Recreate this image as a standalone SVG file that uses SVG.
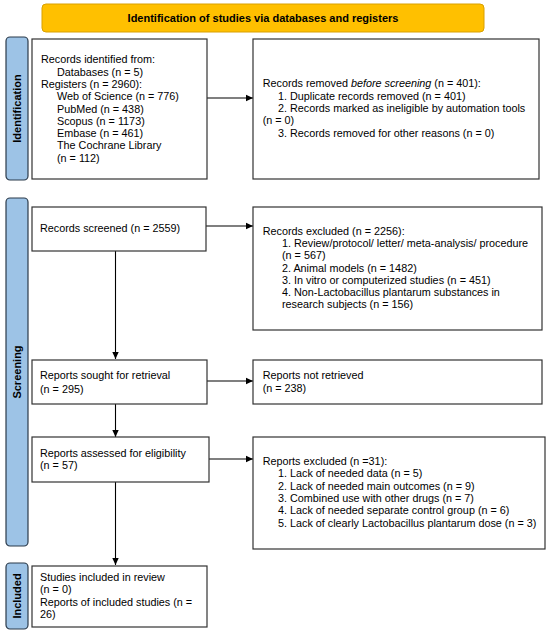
<svg xmlns="http://www.w3.org/2000/svg" width="550" height="634" viewBox="0 0 550 634">
<defs>
<marker id="arr" markerWidth="8" markerHeight="8" refX="7" refY="4" orient="auto" markerUnits="userSpaceOnUse">
<path d="M0,0.8 L7,4 L0,7.2 Z" fill="#000"/>
</marker>
<style>
.box{fill:#fff;stroke:#333;stroke-width:1.2}
.side{fill:#9dc3e6;stroke:#2b3a4a;stroke-width:1.2}
.t{font-family:"Liberation Sans",Arial,sans-serif;font-size:10.8px;fill:#000}
.st{font-family:"Liberation Sans",Arial,sans-serif;font-size:11px;font-weight:bold;fill:#000}
.edge{stroke:#000;stroke-width:1.1;fill:none;marker-end:url(#arr)}
</style>
</defs>
<rect width="550" height="634" fill="#fff"/>
<g id="title">
<rect x="42" y="4" width="442" height="28" rx="4" fill="#ffc000" stroke="#d9a000" stroke-width="1"/>
<text class="st" x="263" y="22" text-anchor="middle">Identification of studies via databases and registers</text>
</g>
<g id="side-identification">
<rect class="side" x="6" y="37" width="22" height="143" rx="4"/>
<text class="st" transform="translate(21,108.5) rotate(-90)" text-anchor="middle">Identification</text>
</g>
<g id="side-screening">
<rect class="side" x="6" y="198" width="22" height="348" rx="4"/>
<text class="st" transform="translate(21,372) rotate(-90)" text-anchor="middle">Screening</text>
</g>
<g id="side-included">
<rect class="side" x="6" y="563" width="22" height="66" rx="4"/>
<text class="st" transform="translate(21,596) rotate(-90)" text-anchor="middle">Included</text>
</g>
<g id="connectors">
<line class="edge" x1="207" y1="98" x2="253" y2="98"/>
<line class="edge" x1="206" y1="226" x2="253" y2="226"/>
<line class="edge" x1="115.5" y1="251" x2="115.5" y2="359"/>
<line class="edge" x1="207" y1="381" x2="253" y2="381"/>
<line class="edge" x1="115.5" y1="404" x2="115.5" y2="437"/>
<line class="edge" x1="209" y1="459" x2="253" y2="459"/>
<line class="edge" x1="115.5" y1="482" x2="115.5" y2="565"/>
</g>
<g id="n-identified">
<rect class="box" x="32" y="39" width="175" height="140"/>
<text class="t" x="41" y="63.3">Records identified from:</text>
<text class="t" x="57" y="75.6">Databases (n = 5)</text>
<text class="t" x="41" y="87.9">Registers (n = 2960):</text>
<text class="t" x="57" y="100.2">Web of Science (n = 776)</text>
<text class="t" x="57" y="112.5">PubMed (n = 438)</text>
<text class="t" x="57" y="124.8">Scopus (n = 1173)</text>
<text class="t" x="57" y="137.1">Embase (n = 461)</text>
<text class="t" x="57" y="149.4">The Cochrane Library</text>
<text class="t" x="57" y="161.7">(n = 112)</text>
</g>
<g id="n-removed">
<rect class="box" x="253" y="39" width="286" height="140"/>
<text class="t" x="262.7" y="87.3">Records removed <tspan font-style="italic">before screening</tspan> (n = 401):</text>
<text class="t" x="278" y="99.6">1. Duplicate records removed (n = 401)</text>
<text class="t" x="278" y="111.9">2. Records marked as ineligible by automation tools</text>
<text class="t" x="262.7" y="124.2">(n = 0)</text>
<text class="t" x="278" y="136.5">3. Records removed for other reasons (n = 0)</text>
</g>
<g id="n-screened">
<rect class="box" x="32" y="207" width="174" height="44"/>
<text class="t" x="40" y="232">Records screened (n = 2559)</text>
</g>
<g id="n-excluded">
<rect class="box" x="253" y="207" width="289" height="123"/>
<text class="t" x="262.7" y="235">Records excluded (n = 2256):</text>
<text class="t" x="282" y="247.2">1. Review/protocol/ letter/ meta-analysis/ procedure</text>
<text class="t" x="282" y="259.4">(n = 567)</text>
<text class="t" x="282" y="271.6">2. Animal models (n = 1482)</text>
<text class="t" x="282" y="283.8">3. In vitro or computerized studies (n = 451)</text>
<text class="t" x="282" y="296">4. Non-Lactobacillus plantarum substances in</text>
<text class="t" x="282" y="308.2">research subjects (n = 156)</text>
</g>
<g id="n-sought">
<rect class="box" x="32" y="360" width="175" height="44"/>
<text class="t" x="40" y="379">Reports sought for retrieval</text>
<text class="t" x="40" y="392.5">(n = 295)</text>
</g>
<g id="n-notretrieved">
<rect class="box" x="253" y="360" width="289" height="44"/>
<text class="t" x="262.7" y="379.3">Reports not retrieved</text>
<text class="t" x="262.7" y="392.3">(n = 238)</text>
</g>
<g id="n-assessed">
<rect class="box" x="32" y="437" width="177" height="45"/>
<text class="t" x="40" y="456.7">Reports assessed for eligibility</text>
<text class="t" x="40" y="469.3">(n = 57)</text>
</g>
<g id="n-reportsexcluded">
<rect class="box" x="253" y="437" width="292" height="112"/>
<text class="t" x="262.7" y="465">Reports excluded (n =31):</text>
<text class="t" x="278" y="477.3">1. Lack of needed data (n = 5)</text>
<text class="t" x="278" y="489.6">2. Lack of needed main outcomes (n = 9)</text>
<text class="t" x="278" y="501.9">3. Combined use with other drugs (n = 7)</text>
<text class="t" x="278" y="514.2">4. Lack of needed separate control group (n = 6)</text>
<text class="t" x="278" y="526.5">5. Lack of clearly Lactobacillus plantarum dose (n = 3)</text>
</g>
<g id="n-included">
<rect class="box" x="32" y="566" width="175" height="61"/>
<text class="t" x="40" y="580.7">Studies included in review</text>
<text class="t" x="40" y="593.2">(n = 0)</text>
<text class="t" x="40" y="605.7">Reports of included studies (n =</text>
<text class="t" x="40" y="618.2">26)</text>
</g>
</svg>
